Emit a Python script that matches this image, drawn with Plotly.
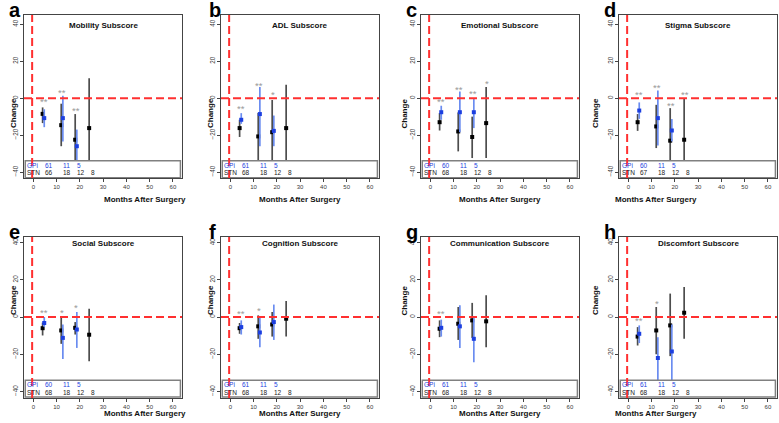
import plotly.graph_objects as go

# ---------------- data ----------------
panel_letters = ["a", "b", "c", "d", "e", "f", "g", "h"]
panel_titles = ["Mobility Subscore", "ADL Subscore", "Emotional Subscore", "Stigma Subscore",
                "Social Subscore", "Cognition Subscore", "Communication Subscore", "Discomfort Subscore"]

stn_months = [4, 12, 18, 24]
gpi_months = [4.7, 12.7, 18.7]

stn_mean = [[-8.5, -14.6, -22.5, -16.2], [-16.2, -20.7, -18.4, -16.2], [-13, -18, -21, -13.5], [-13, -15.3, -23, -22.5],
            [-6, -7.2, -5.8, -9.5], [-6, -5, -4, -0.9], [-6.3, -3.6, -1.8, -2.3], [-10.5, -7.2, -4.5, 2.3]]
stn_low = [[-13.5, -26, -40, -45], [-21, -40, -40, -45], [-17.5, -28.8, -32.4, -32.4], [-17.7, -27, -40, -45],
           [-9.9, -14.4, -9.4, -23.8], [-9, -11.7, -10.5, -10.5], [-10.8, -12.3, -11.2, -16.2], [-15.3, -20, -21, -11.7]]
stn_high = [[-5, -3, -8.6, 10.8], [-11.7, -8, -1, 7.2], [-8, -7.7, -10, 6], [-8.6, -3.6, -5.4, 0],
            [-3, 0.4, -2.7, 4.5], [-3.2, 0.9, 2.7, 8.6], [-1.8, 5.4, 7.6, 11.7], [-5.4, 5.4, 12.6, 16.2]]

gpi_mean = [[-10.8, -10.8, -26], [-11.7, -8.6, -17.7], [-7.6, -7.6, -7.6], [-6.7, -10.8, -17.5],
            [-3.2, -11.2, -6.7], [-5.4, -8.3, -2.7], [-5.8, -5, -11.7], [-9, -22, -18.5]]
gpi_low = [[-15.7, -23.4, -37], [-13.9, -26, -26], [-11.7, -18.4, -16.2], [-11.2, -25.6, -23.4],
           [-5.4, -22.5, -16.6], [-9.4, -16.2, -12.3], [-10.5, -16.6, -24.3], [-14, -35, -36]]
gpi_high = [[-6, 1.3, -17], [-8.1, 6, -9.4], [-4.1, 3.6, 0], [-2.3, 4.1, -11.3],
            [0, -4, 2.7], [-1.8, -0.4, 6.7], [-1.4, 6.3, 0.4], [-4.5, -10.8, -4]]

star_text = [["**", "**", "**", ""], ["**", "**", "*", ""], ["**", "**", "**", "*"], ["**", "**", "**", "**"],
             ["**", "*", "*", ""], ["**", "*", "", ""], ["**", "", "", ""], ["**", "*", "", ""]]
star_y = [[-1.8, 3, -6.7, None], [-5.8, 6.7, 1.8, None], [-1.8, 4.5, 2.7, 8], [1.8, 6, -4.1, 2.2],
          [2.2, 2.2, 4.9, None], [1.8, 3.6, None, None], [1.8, None, None, None], [-1.8, 7.2, None, None]]

gpi_n = [[61, 11, 5], [61, 11, 5], [60, 11, 5], [60, 11, 5], [60, 11, 5], [61, 11, 5], [61, 11, 5], [61, 11, 5]]
stn_n = [[66, 18, 12, 8], [68, 18, 12, 8], [68, 18, 12, 8], [67, 18, 12, 8],
         [68, 18, 12, 8], [68, 18, 12, 8], [68, 18, 12, 8], [68, 18, 12, 8]]

x_ticks = [0, 10, 20, 30, 40, 50, 60]
y_ticks = [-40, -20, 0, 20, 40]

# ---------------- layout geometry (pixels) ----------------
W, H = 779, 423
col_px = [(24, 182), (221, 379), (421, 579), (619, 777)]
row_px = [(15, 178), (237, 398)]
row_yrange = [[-43.2, 45.0], [-43.5, 43.0]]
letter_x_px = [7, 207, 404, 602]

FONT = "Liberation Sans, Arial, sans-serif"
STN_BAR = "#4d4d4d"
GPI_BAR = "#6a8cf0"
GPI_PT = "#1c3fe0"
RED = "#ff3030"
XR = [-4.0, 63.9]


def px_x(p):
    return p / W


def px_y(p):
    return 1 - p / H


fig = go.Figure()
annotations = []
shapes = []

for i in range(8):
    r, c = divmod(i, 4)
    n = i + 1
    xa = "x" if n == 1 else f"x{n}"
    ya = "y" if n == 1 else f"y{n}"
    xl, xr = col_px[c]
    yt, yb = row_px[r]

    ax_common = dict(showgrid=False, zeroline=False, showline=True, mirror=True,
                     linecolor="#444", linewidth=1.2, ticks="outside", ticklen=3,
                     tickcolor="#444", tickwidth=1)
    fig.layout[f"xaxis{'' if n == 1 else n}"] = dict(
        ax_common, domain=[px_x(xl), px_x(xr)], range=XR, tickvals=x_ticks, anchor=ya,
        tickfont=dict(size=6, color="#3a3a3a", family=FONT))
    fig.layout[f"yaxis{'' if n == 1 else n}"] = dict(
        ax_common, domain=[px_y(yb), px_y(yt)], range=row_yrange[r], tickvals=y_ticks,
        tickangle=-90, anchor=xa, ticklabelstandoff=-1,
        tickfont=dict(size=6.3, color="#3a3a3a", family=FONT))

    sm, sl, sh = stn_mean[i], stn_low[i], stn_high[i]
    gm, gl, gh = gpi_mean[i], gpi_low[i], gpi_high[i]
    fig.add_trace(go.Scatter(
        x=stn_months, y=sm, mode="markers", xaxis=xa, yaxis=ya, showlegend=False,
        marker=dict(symbol="square", size=4, color="black"),
        error_y=dict(type="data", symmetric=False,
                     array=[h - m for h, m in zip(sh, sm)],
                     arrayminus=[m - l for m, l in zip(sm, sl)],
                     color=STN_BAR, thickness=1.7, width=0)))
    fig.add_trace(go.Scatter(
        x=gpi_months, y=gm, mode="markers", xaxis=xa, yaxis=ya, showlegend=False,
        marker=dict(symbol="square", size=4, color=GPI_PT),
        error_y=dict(type="data", symmetric=False,
                     array=[h - m for h, m in zip(gh, gm)],
                     arrayminus=[m - l for m, l in zip(gm, gl)],
                     color=GPI_BAR, thickness=1.7, width=0)))

    # significance stars
    for k in range(4):
        if star_text[i][k]:
            annotations.append(dict(x=stn_months[k] + 0.5, y=star_y[i][k], xref=xa, yref=ya,
                                    text=star_text[i][k], showarrow=False,
                                    font=dict(size=9.5, color="#9a9a9a", family=FONT)))

    # N box
    shapes.append(dict(type="rect", xref=f"{xa} domain", yref=ya, x0=0.008, x1=0.99, y0=-43.0, y1=-33.9,
                       fillcolor="white", line=dict(color="#808080", width=1.5), layer="above"))
    # red reference lines
    shapes.append(dict(type="line", xref=xa, yref=f"{ya} domain", x0=-0.5, x1=-0.5, y0=0, y1=1,
                       line=dict(color=RED, width=2, dash="8px,4px"), layer="above"))
    shapes.append(dict(type="line", xref=f"{xa} domain", yref=ya, x0=0, x1=1, y0=0, y1=0,
                       line=dict(color=RED, width=2, dash="8px,4px"), layer="above"))

    annotations.append(dict(x=-3.4, y=-36.4, xref=xa, yref=ya, text="GPi", showarrow=False,
                            xanchor="left", font=dict(size=6.5, color=GPI_PT, family=FONT)))
    annotations.append(dict(x=-3.4, y=-40.4, xref=xa, yref=ya, text="STN", showarrow=False,
                            xanchor="left", font=dict(size=6.5, color="#222", family=FONT)))
    for k in range(3):
        annotations.append(dict(x=stn_months[k], y=-36.4, xref=xa, yref=ya, text=str(gpi_n[i][k]),
                                showarrow=False, xanchor="left",
                                font=dict(size=6.5, color=GPI_PT, family=FONT)))
    for k in range(4):
        annotations.append(dict(x=stn_months[k], y=-40.4, xref=xa, yref=ya, text=str(stn_n[i][k]),
                                showarrow=False, xanchor="left",
                                font=dict(size=6.5, color="#222", family=FONT)))

    # panel title
    annotations.append(dict(x=0.5, y=39.4, xref=f"{xa} domain", yref=ya,
                            text=f"<b>{panel_titles[i]}</b>", showarrow=False,
                            font=dict(size=8, color="#111", family=FONT)))
    # axis titles
    annotations.append(dict(x=px_x((xl + xr) / 2), y=px_y(yb + 21), xref="paper", yref="paper",
                            text="<b>Months After Surgery</b>", showarrow=False, borderpad=0,
                            font=dict(size=8, color="#111", family=FONT)))
    annotations.append(dict(x=px_x(xl - 17), y=px_y((yt + yb) / 2), xref="paper", yref="paper",
                            text="<b>Change</b>", showarrow=False, textangle=-90,
                            font=dict(size=8, color="#111", family=FONT)))
    # panel letter
    annotations.append(dict(x=px_x(letter_x_px[c]), y=px_y(yt - 5), xref="paper", yref="paper",
                            text=f"<b>{panel_letters[i]}</b>", showarrow=False, xanchor="left",
                            yanchor="middle", font=dict(size=20, color="black", family=FONT)))

fig.update_layout(width=W, height=H, margin=dict(l=0, r=0, t=0, b=0),
                  paper_bgcolor="white", plot_bgcolor="white",
                  annotations=annotations, shapes=shapes, showlegend=False,
                  font=dict(family=FONT))

fig.write_html("out.html", config={"displayModeBar": False},
               post_script="document.body.style.margin='0px';")
